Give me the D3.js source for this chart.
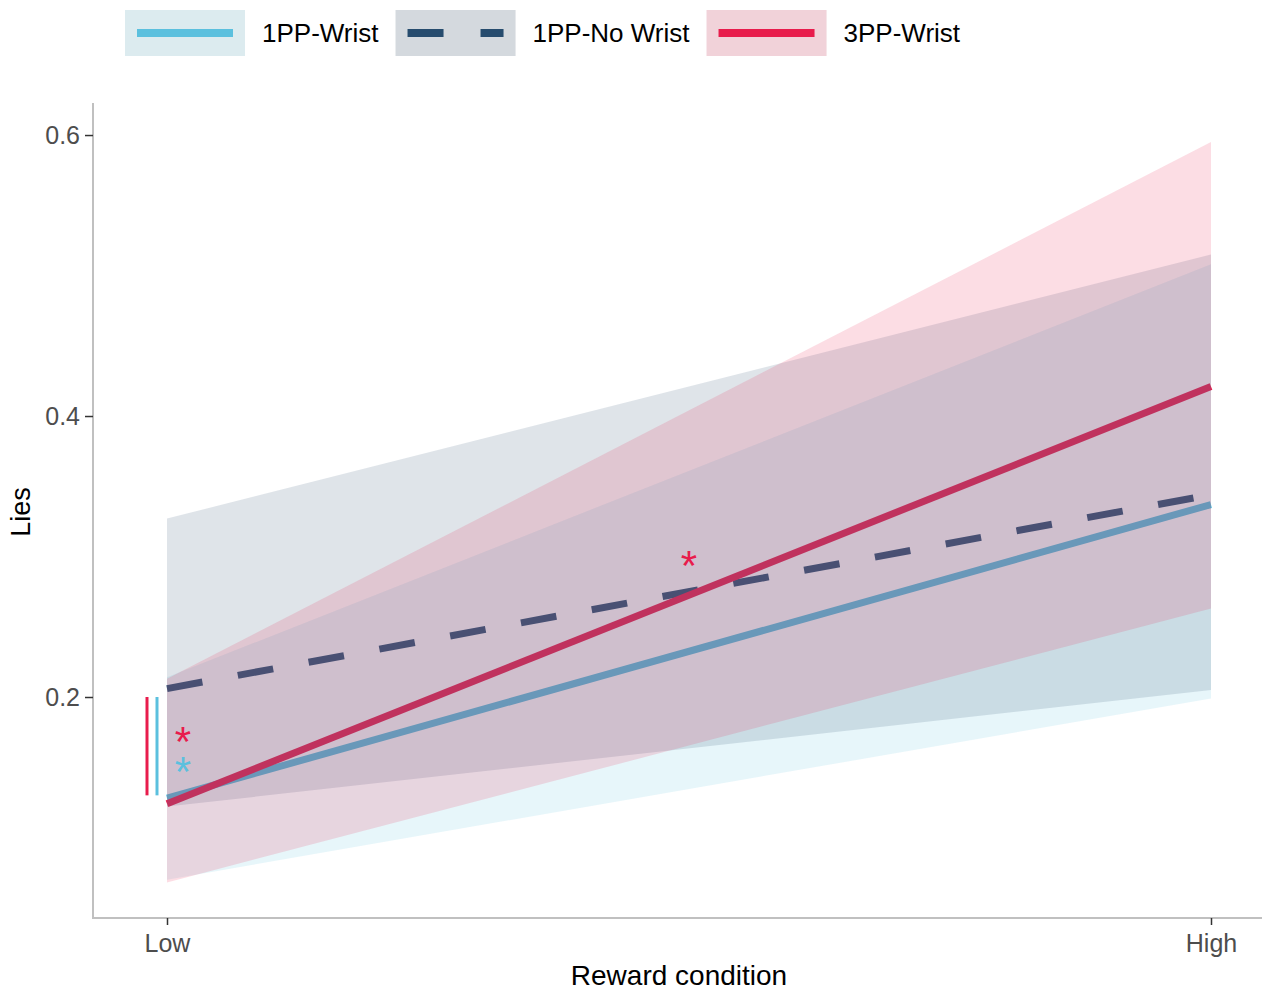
<!DOCTYPE html>
<html>
<head>
<meta charset="utf-8">
<script src="https://cdn.jsdelivr.net/npm/d3@7"></script>
<style>
  body { margin: 0; background: #fff; }
  text { font-family: "Liberation Sans", Arial, sans-serif; }
</style>
</head>
<body>
<div id="chart"></div>
<script>
'use strict';

// ---- data ----
const categories = ["Low", "High"];
const series = ["1PP-Wrist", "1PP-No Wrist", "3PP-Wrist"];
const colors = ["#5bc0de", "#264c6e", "#e81c4c"];
const dashed = [false, true, false];

const fitLow = [0.128, 0.206, 0.124];
const fitHigh = [0.337, 0.344, 0.421];
const ciLowLower = [0.070, 0.122, 0.068];
const ciLowUpper = [0.214, 0.327, 0.213];
const ciHighLower = [0.199, 0.205, 0.263];
const ciHighUpper = [0.508, 0.515, 0.595];

const yTicks = [0.2, 0.4, 0.6];

// significance marks
const bracketSeries = ["3PP-Wrist", "1PP-Wrist"];
const bracketRange = [0.130, 0.200];
const starSeries = ["3PP-Wrist", "1PP-Wrist", "3PP-Wrist"];
const starPos = [0, 0, 0.5];          // 0 = Low, 1 = High
const starValues = [0.174, 0.152, 0.299];

const width = 1262;
const height = 990;
const margin = { top: 103, right: 0, bottom: 72, left: 93 };

const svg = d3.select("#chart")
    .append("svg")
    .attr("width", width)
    .attr("height", height);

svg.append("rect").attr("width", width).attr("height", height).attr("fill", "#fff");

const xScale = d3.scalePoint()
    .domain(categories)
    .range([167, 1211]);

const xFrac = d3.scaleLinear()
    .domain([0, 1])
    .range([xScale("Low"), xScale("High")]);

const yScale = d3.scaleLinear()
    .domain([0.0427, 0.6228])
    .range([height - margin.bottom, margin.top]);

const rows = series.map((s, i) => ({
    name: s,
    color: colors[i],
    dashed: dashed[i],
    fit: [fitLow[i], fitHigh[i]],
    lo: [ciLowLower[i], ciHighLower[i]],
    hi: [ciLowUpper[i], ciHighUpper[i]]
}));

const line = d3.line()
    .x((d, i) => xScale(categories[i]))
    .y(d => yScale(d));

const area = d3.area()
    .x(d => xScale(d.cat))
    .y0(d => yScale(d.lo))
    .y1(d => yScale(d.hi));

// lines first, ribbons drawn over them (like ggplot layer order)
svg.append("g")
    .selectAll("path")
    .data(rows)
    .join("path")
    .attr("d", d => line(d.fit))
    .attr("fill", "none")
    .attr("stroke", d => d.color)
    .attr("stroke-width", 7)
    .attr("stroke-dasharray", d => d.dashed ? "36,36" : null);

svg.append("g")
    .selectAll("path")
    .data(rows)
    .join("path")
    .attr("d", d => area(categories.map((c, i) => ({ cat: c, lo: d.lo[i], hi: d.hi[i] }))))
    .attr("fill", d => d.color)
    .attr("fill-opacity", 0.15);

// axes
const axisColor = "#c0c0c0";
svg.append("line")
    .attr("x1", margin.left).attr("x2", margin.left)
    .attr("y1", margin.top).attr("y2", height - margin.bottom + 1)
    .attr("stroke", axisColor).attr("stroke-width", 2);
svg.append("line")
    .attr("x1", margin.left - 1).attr("x2", width)
    .attr("y1", height - margin.bottom).attr("y2", height - margin.bottom)
    .attr("stroke", axisColor).attr("stroke-width", 2);

const yAxis = svg.append("g")
    .attr("transform", `translate(${margin.left},0)`)
    .call(d3.axisLeft(yScale).tickValues(yTicks).tickSize(8).tickPadding(5).tickFormat(d3.format(".1f")));
yAxis.select(".domain").remove();
yAxis.selectAll(".tick line").attr("stroke", "#333").attr("stroke-width", 1.5);
yAxis.selectAll(".tick text")
    .attr("fill", "#4d4d4d")
    .attr("font-size", 25)
    .attr("font-family", "Liberation Sans, Arial, sans-serif");

const xAxis = svg.append("g")
    .attr("transform", `translate(0,${height - margin.bottom})`)
    .call(d3.axisBottom(xScale).tickSize(7).tickPadding(9));
xAxis.select(".domain").remove();
xAxis.selectAll(".tick line").attr("stroke", "#333").attr("stroke-width", 1.5);
xAxis.selectAll(".tick text")
    .attr("fill", "#4d4d4d")
    .attr("font-size", 25)
    .attr("font-family", "Liberation Sans, Arial, sans-serif");

svg.append("text")
    .attr("x", 679)
    .attr("y", 985)
    .attr("text-anchor", "middle")
    .attr("font-size", 28)
    .attr("fill", "#000")
    .text("Reward condition");

svg.append("text")
    .attr("transform", "translate(30,512) rotate(-90)")
    .attr("text-anchor", "middle")
    .attr("font-size", 27)
    .attr("fill", "#000")
    .text("Lies");

// significance brackets and stars
const colorOf = name => colors[series.indexOf(name)];

svg.append("g")
    .selectAll("line")
    .data(bracketSeries)
    .join("line")
    .attr("x1", (d, i) => xScale("Low") - 20 + i * 10)
    .attr("x2", (d, i) => xScale("Low") - 20 + i * 10)
    .attr("y1", yScale(bracketRange[1]))
    .attr("y2", yScale(bracketRange[0]))
    .attr("stroke", d => colorOf(d))
    .attr("stroke-width", 3);

svg.append("g")
    .selectAll("text")
    .data(starValues)
    .join("text")
    .attr("x", (d, i) => xFrac(starPos[i]) + (starPos[i] === 0 ? 16 : 0))
    .attr("y", d => yScale(d) + 22)
    .attr("text-anchor", "middle")
    .attr("font-size", 42)
    .attr("fill", (d, i) => colorOf(starSeries[i]))
    .text("*");

// legend
const legend = svg.append("g").attr("transform", "translate(125,10)");
let lx = 0;
rows.forEach(d => {
    const g = legend.append("g").attr("transform", `translate(${lx},0)`);
    g.append("rect")
        .attr("width", 120).attr("height", 46)
        .attr("fill", "#f2f2f2");
    g.append("rect")
        .attr("width", 120).attr("height", 46)
        .attr("fill", d.color).attr("fill-opacity", 0.15);
    g.append("line")
        .attr("x1", 12).attr("x2", 108)
        .attr("y1", 23).attr("y2", 23)
        .attr("stroke", d.color)
        .attr("stroke-width", 8)
        .attr("stroke-dasharray", d.dashed ? "36,37" : null);
    const t = g.append("text")
        .attr("x", 137)
        .attr("y", 32)
        .attr("font-size", 26)
        .attr("fill", "#000")
        .text(d.name);
    lx += 137 + t.node().getComputedTextLength() + 17;
});
</script>
</body>
</html>
